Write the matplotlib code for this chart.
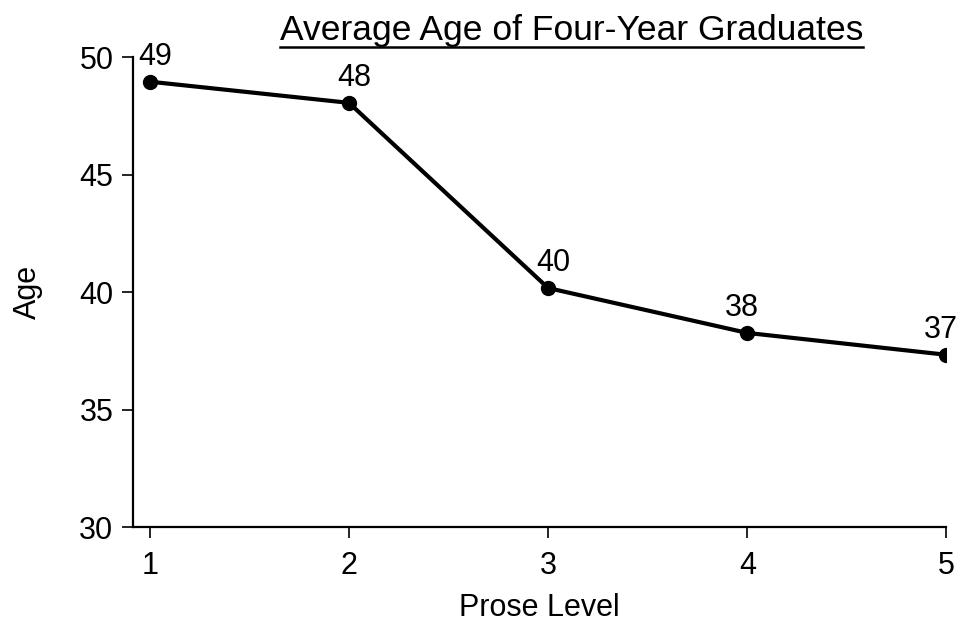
import matplotlib
matplotlib.use("Agg")
import matplotlib.pyplot as plt
from matplotlib.lines import Line2D

plt.rcParams['font.family'] = ['Liberation Sans', 'DejaVu Sans']

# data
levels = [1, 2, 3, 4, 5]
ages = [48.95, 48.05, 40.17, 38.26, 37.33]
labels = ["49", "48", "40", "38", "37"]
yticks = [30, 35, 40, 45, 50]

fig = plt.figure(figsize=(9.56, 6.23), dpi=100)
ax = fig.add_axes([0.139, 0.154, 0.851, 0.7545])

ax.plot(levels, ages, color='black', lw=3.0, marker='o', ms=10, solid_capstyle='round')
for x, y, t in zip(levels, ages, labels):
    dx = 4 if x < 4 else -4
    ax.annotate(t, (x, y), xytext=(dx, 7), textcoords='offset points',
                ha='center', va='bottom', fontsize=22, annotation_clip=False)

ax.set_xlim(0.915, 5.0)
ax.set_ylim(30, 50)
ax.set_xticks(levels)
ax.set_yticks(yticks)
ax.tick_params(direction='out', length=8, width=1.2, labelsize=22, pad=6)
ax.tick_params(axis='x', pad=9)
for s in ['top', 'right']:
    ax.spines[s].set_visible(False)
for s in ['left', 'bottom']:
    ax.spines[s].set_linewidth(1.6)

ax.set_xlabel("Prose Level", fontsize=22, labelpad=9)
ax.set_ylabel("Age", fontsize=22, labelpad=26)

title = fig.text(0.598, 0.936, "Average Age of Four-Year Graduates",
                 ha='center', va='baseline', fontsize=25.5)

# underline the title
fig.canvas.draw()
bb = title.get_window_extent(fig.canvas.get_renderer()).transformed(fig.transFigure.inverted())
uy = 0.936 - 0.012
fig.add_artist(Line2D([bb.x0, bb.x1], [uy, uy], color='black', lw=1.8,
                      transform=fig.transFigure))

fig.savefig("out.png", dpi=100)
